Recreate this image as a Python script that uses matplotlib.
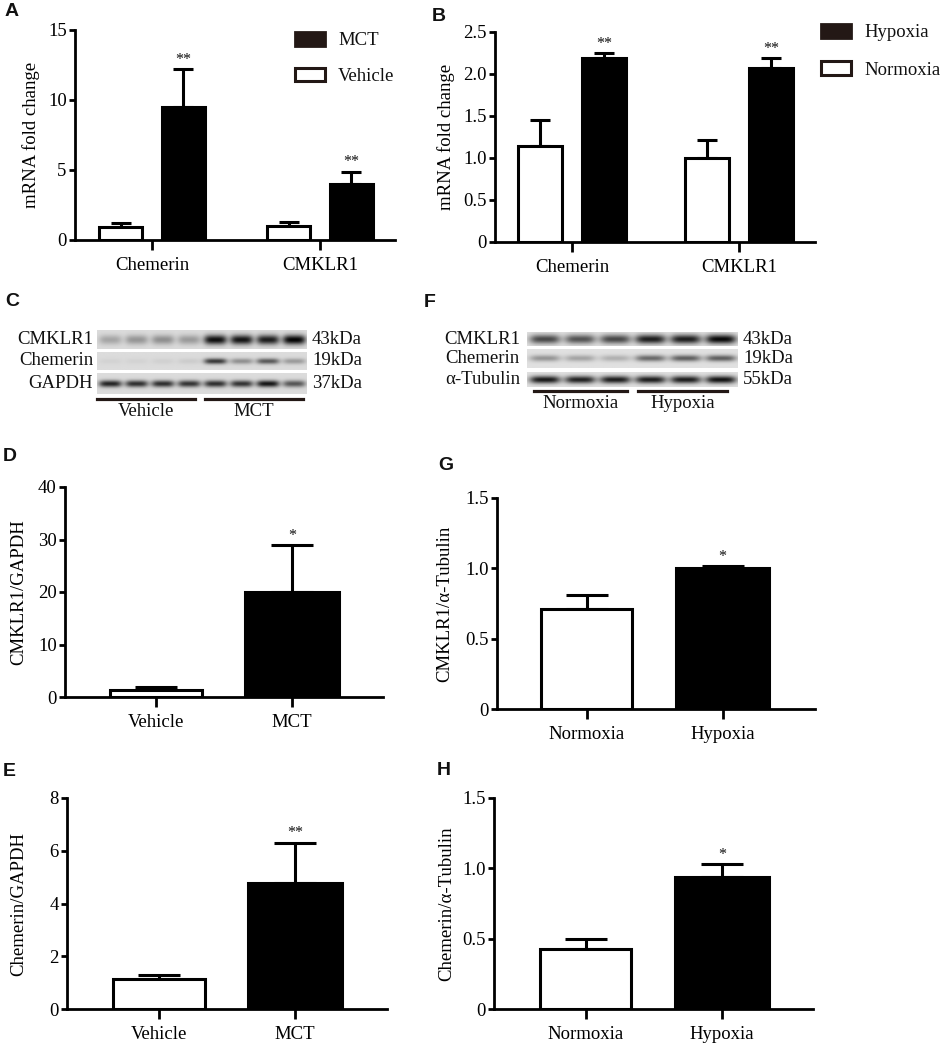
import numpy as np
import matplotlib
matplotlib.use('Agg')
import matplotlib.pyplot as plt
from matplotlib.patches import Patch
from matplotlib.lines import Line2D

plt.rcParams['font.family'] = ['Liberation Serif', 'DejaVu Serif']
plt.rcParams['axes.linewidth'] = 2
plt.rcParams['text.color'] = '#111111'

# ---- data -------------------------------------------------------------
genes = ['Chemerin', 'CMKLR1']

# A: mRNA fold change, rat lungs
a_vehicle = [0.95, 1.02]
a_vehicle_err = [0.24, 0.29]
a_mct = [9.52, 3.98]
a_mct_err = [2.68, 0.90]
a_stars = ['**', '**']

# B: mRNA fold change, cells
b_normoxia = [1.14, 1.00]
b_normoxia_err = [0.31, 0.21]
b_hypoxia = [2.19, 2.07]
b_hypoxia_err = [0.06, 0.12]
b_stars = ['**', '**']

mct_groups = ['Vehicle', 'MCT']
hyp_groups = ['Normoxia', 'Hypoxia']

# D / E: western blot quantification (MCT)
d_vals = [1.33, 20.06]
d_err = [0.67, 8.84]
d_star = '*'
e_vals = [1.15, 4.76]
e_err = [0.15, 1.55]
e_star = '**'

# G / H: western blot quantification (hypoxia)
g_vals = [0.71, 1.00]
g_err = [0.10, 0.015]
g_star = '*'
h_vals = [0.425, 0.94]
h_err = [0.07, 0.09]
h_star = '*'

# blot band intensities (relative darkness per lane)
c_rows = ['CMKLR1', 'Chemerin', 'GAPDH']
c_kda = ['43kDa', '19kDa', '37kDa']
c_bands = [[0.25, 0.32, 0.35, 0.30, 0.95, 0.92, 0.88, 1.00],
           [0.04, 0.04, 0.05, 0.07, 0.75, 0.35, 0.60, 0.30],
           [0.85, 0.80, 0.80, 0.78, 0.80, 0.78, 0.92, 0.62]]
f_rows = ['CMKLR1', 'Chemerin', 'α-Tubulin']
f_kda = ['43kDa', '19kDa', '55kDa']
f_bands = [[0.70, 0.65, 0.70, 0.90, 0.90, 1.00],
           [0.35, 0.28, 0.22, 0.55, 0.60, 0.60],
           [0.92, 0.88, 0.90, 0.90, 0.90, 0.95]]

# ---- layout helpers ----------------------------------------------------
W, H = 941, 1044
fig = plt.figure(figsize=(W / 100, H / 100), dpi=100)
INK = '#111111'
DARK = '#231815'
FS = 13.5


def px_axes(x0, y0, x1, y1):
    return fig.add_axes([x0 / W, 1 - y1 / H, (x1 - x0) / W, (y1 - y0) / H])


def ftext(x, y, s, **kw):
    fig.text(x / W, 1 - y / H, s, **kw)


def style(ax, ylim, yticks, yticklabels, ylabel, label_x, xlim, xt, xtl, ax_left, ax_w):
    ax.set_ylim(*ylim)
    ax.set_xlim(*xlim)
    for s in ['top', 'right']:
        ax.spines[s].set_visible(False)
    ax.set_yticks(yticks)
    ax.set_yticklabels(yticklabels, fontsize=FS)
    ax.set_xticks(xt)
    ax.set_xticklabels(xtl, fontsize=FS)
    ax.tick_params(axis='y', length=4, width=2, pad=2)
    ax.tick_params(axis='x', length=7, width=2, pad=5)
    ax.set_ylabel(ylabel, fontsize=FS)
    ax.yaxis.set_label_coords((label_x - ax_left) / ax_w, 0.5)


def star(ax, x, y, s):
    ax.annotate(s, (x, y), xytext=(0, 1), textcoords='offset points',
                ha='center', va='bottom', fontsize=11.5)


def bars(ax, x, vals, errs, color, width, cap):
    ax.bar(x, vals, width=width, color=color, edgecolor='black',
           linewidth=2.2, zorder=3)
    ax.errorbar(x, vals, yerr=[np.zeros(len(vals)), errs], fmt='none',
                ecolor='black', elinewidth=2.2, capsize=cap, capthick=2.2,
                zorder=2)


# ---- A ------------------------------------------------------------------
axA = px_axes(75, 30, 395, 240)
x = np.arange(len(genes))
off, bw = 0.186, 0.255
bars(axA, x - off, a_vehicle, a_vehicle_err, 'white', bw, 7)
bars(axA, x + off, a_mct, a_mct_err, 'black', bw, 7)
for i in range(len(genes)):
    star(axA, x[i] + off, a_mct[i] + a_mct_err[i], a_stars[i])
style(axA, (0, 15), [0, 5, 10, 15], ['0', '5', '10', '15'],
      'mRNA fold change', 40, (-0.458, 1.446), x, genes, 75, 320)

fig.legend([Patch(facecolor=DARK, edgecolor=DARK, linewidth=2),
            Patch(facecolor='white', edgecolor=DARK, linewidth=2.2)],
           ['MCT', 'Vehicle'], loc='upper left',
           bbox_to_anchor=(295 / W, 1 - 32 / H), frameon=False, fontsize=FS,
           handlelength=1.6, handleheight=0.75, handletextpad=0.7,
           labelspacing=0.97, borderpad=0, borderaxespad=0)

# ---- B ------------------------------------------------------------------
axB = px_axes(495, 32, 815, 242)
off, bw = 0.19, 0.265
bars(axB, x - off, b_normoxia, b_normoxia_err, 'white', bw, 7.5)
bars(axB, x + off, b_hypoxia, b_hypoxia_err, 'black', bw, 7.5)
for i in range(len(genes)):
    star(axB, x[i] + off, b_hypoxia[i] + b_hypoxia_err[i], b_stars[i])
style(axB, (0, 2.5), [0, 0.5, 1.0, 1.5, 2.0, 2.5],
      ['0', '0.5', '1.0', '1.5', '2.0', '2.5'],
      'mRNA fold change', 455, (-0.461, 1.455), x, genes, 495, 320)

fig.legend([Patch(facecolor=DARK, edgecolor=DARK, linewidth=2),
            Patch(facecolor='white', edgecolor=DARK, linewidth=2.2)],
           ['Hypoxia', 'Normoxia'], loc='upper left',
           bbox_to_anchor=(821 / W, 1 - 24 / H), frameon=False, fontsize=FS,
           handlelength=1.6, handleheight=0.75, handletextpad=0.7,
           labelspacing=1.06, borderpad=0, borderaxespad=0)


# ---- blots --------------------------------------------------------------
def blot_strip(ax, levels, band_h, bg=0.86):
    n = len(levels)
    h, w = 40, n * 40
    yy, xx = np.mgrid[0:h, 0:w]
    img = np.full((h, w), bg)
    for i, a in enumerate(levels):
        xc = (i + 0.5) * 40
        px = np.exp(-((xx - xc) / 17.5) ** 4)
        py = np.exp(-((yy - h / 2) / (h * band_h / 2)) ** 2)
        img -= a * 0.85 * px * py
    ax.imshow(np.clip(img, 0, 1), cmap='gray', vmin=0, vmax=1,
              aspect='auto', interpolation='bilinear')
    ax.set_axis_off()


c_strips = [(330, 349), (352, 370), (373, 394)]
c_bh = [0.5, 0.32, 0.32]
for r, (y0, y1) in enumerate(c_strips):
    blot_strip(px_axes(97, y0, 307, y1), c_bands[r], c_bh[r])
    yc = (y0 + y1) / 2
    ftext(93, yc, c_rows[r], ha='right', va='center', fontsize=FS)
    ftext(312, yc, c_kda[r], ha='left', va='center', fontsize=FS)
for (a, b), lab in zip([(97, 195), (205, 303)], mct_groups):
    fig.add_artist(Line2D([a / W, b / W], [1 - 399 / H] * 2, color=DARK,
                          linewidth=2.3, transform=fig.transFigure))
    ftext((a + b) / 2, 412, lab, ha='center', va='center', fontsize=FS)

f_strips = [(332, 346), (349, 368), (372, 387)]
f_bh = [0.65, 0.32, 0.5]
for r, (y0, y1) in enumerate(f_strips):
    blot_strip(px_axes(527, y0, 738, y1), f_bands[r], f_bh[r], bg=0.88)
    yc = (y0 + y1) / 2
    ftext(520, yc, f_rows[r], ha='right', va='center', fontsize=FS)
    ftext(743, yc, f_kda[r], ha='left', va='center', fontsize=FS)
for (a, b), lab in zip([(534, 627), (638, 727)], hyp_groups):
    fig.add_artist(Line2D([a / W, b / W], [1 - 391 / H] * 2, color=DARK,
                          linewidth=2.3, transform=fig.transFigure))
    ftext((a + b) / 2, 403, lab, ha='center', va='center', fontsize=FS)

# ---- D, E, G, H -----------------------------------------------------------
x2 = np.arange(2)
colors2 = ['white', 'black']


def single(ax, vals, errs, s):
    bars(ax, x2[:1], vals[:1], errs[:1], colors2[0], 0.67, 15)
    bars(ax, x2[1:], vals[1:], errs[1:], colors2[1], 0.69, 15)
    star(ax, x2[1], vals[1] + errs[1], s)


axD = px_axes(65, 487, 383, 697)
single(axD, d_vals, d_err, d_star)
style(axD, (0, 40), [0, 10, 20, 30, 40], ['0', '10', '20', '30', '40'],
      'CMKLR1/GAPDH', 27, (-0.669, 1.669), x2, mct_groups, 65, 318)

axE = px_axes(67, 798, 387, 1009)
single(axE, e_vals, e_err, e_star)
style(axE, (0, 8), [0, 2, 4, 6, 8], ['0', '2', '4', '6', '8'],
      'Chemerin/GAPDH', 27, (-0.676, 1.676), x2, mct_groups, 67, 320)

axG = px_axes(497, 498, 815, 709)
single(axG, g_vals, g_err, g_star)
style(axG, (0, 1.5), [0, 0.5, 1.0, 1.5], ['0', '0.5', '1.0', '1.5'],
      'CMKLR1/α-Tubulin', 453, (-0.66, 1.68), x2, hyp_groups, 497, 318)

axH = px_axes(494, 798, 813, 1009)
single(axH, h_vals, h_err, h_star)
style(axH, (0, 1.5), [0, 0.5, 1.0, 1.5], ['0', '0.5', '1.0', '1.5'],
      'Chemerin/α-Tubulin', 455, (-0.676, 1.67), x2, hyp_groups, 494, 319)

# ---- panel letters ---------------------------------------------------------
letters = [('A', 5, 3), ('B', 432, 8), ('C', 5, 293), ('F', 424, 294),
           ('D', 3, 448), ('G', 438, 457), ('E', 3, 763), ('H', 437, 762)]
for s, lx, ly in letters:
    ftext(lx, ly, s, ha='left', va='top', fontsize=14, fontweight='bold',
          family=['Liberation Sans', 'DejaVu Sans'])

fig.savefig('out.png', dpi=100)
